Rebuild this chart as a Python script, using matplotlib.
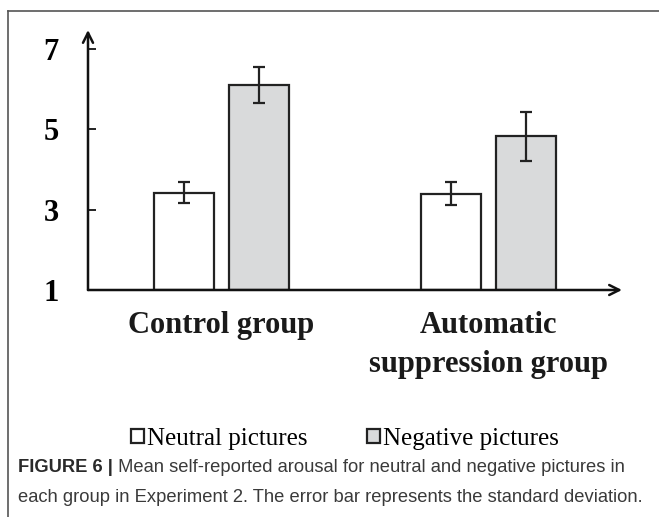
import matplotlib
matplotlib.use("Agg")
import matplotlib.pyplot as plt
from matplotlib.lines import Line2D
import numpy as np

# data
groups = ["Control group", "Automatic\nsuppression group"]
conditions = ["Neutral pictures", "Negative pictures"]
neutral_mean = [3.42, 3.40]
neutral_sd = [0.26, 0.28]
negative_mean = [6.10, 4.83]
negative_sd = [0.45, 0.61]
yticks = [1, 3, 5, 7]
caption_bold = "FIGURE 6 |"
caption_rest = (" Mean self-reported arousal for neutral and negative pictures in\n"
                "each group in Experiment 2. The error bar represents the standard deviation.")

W, H = 659, 517
fig = plt.figure(figsize=(W / 100, H / 100), dpi=100)
fig.patch.set_facecolor("white")

# outer frame (left and top edges visible)
frame_col = "#555555"
fig.add_artist(Line2D([8 / W, 8 / W], [0, 1 - 11 / H], color=frame_col, lw=1.2))
fig.add_artist(Line2D([8 / W, 1], [1 - 11 / H, 1 - 11 / H], color=frame_col, lw=1.2))

ax = fig.add_axes([88 / W, 1 - 290 / H, (622 - 88) / W, (290 - 30) / H])
ax.set_xlim(-0.5, 1.5)
ax.set_ylim(1, 1 + 260 / 40.2)

x = np.arange(len(groups))
off = 0.142
width = 0.225
edge = "#222222"
err_kw = dict(ecolor=edge, elinewidth=1.6, capsize=4.5, capthick=1.6)

b1 = ax.bar(x - off, np.array(neutral_mean) - 1, width, bottom=1, color="white",
            edgecolor=edge, linewidth=1.6, yerr=neutral_sd, error_kw=err_kw,
            label=conditions[0])
b2 = ax.bar(x + off, np.array(negative_mean) - 1, width, bottom=1, color="#d9dadb",
            edgecolor=edge, linewidth=1.6, yerr=negative_sd, error_kw=err_kw,
            label=conditions[1])

for s in ax.spines.values():
    s.set_visible(False)

# axes drawn as arrows
arrow_kw = dict(arrowstyle="->", color="#111111", lw=1.8, shrinkA=0, shrinkB=0,
                mutation_scale=18)
ax.annotate("", xy=(0, 1.0), xytext=(0, 0), xycoords="axes fraction",
            arrowprops=arrow_kw, annotation_clip=False)
ax.annotate("", xy=(1.0, 0), xytext=(0, 0), xycoords="axes fraction",
            arrowprops=arrow_kw, annotation_clip=False)

ax.set_yticks(yticks)
ax.set_yticklabels([str(t) for t in yticks], fontfamily="Liberation Serif",
                   fontweight="bold", fontsize=22)
ax.tick_params(axis="y", direction="in", length=6, width=1.3, color="#111111", pad=21)
ax.set_xticks([])

# group labels
ax.text(0, -0.08, groups[0], transform=ax.get_xaxis_transform(), ha="center", va="top",
        fontfamily="Liberation Serif", fontweight="bold", fontsize=22, color="#1a1a1a")
ax.text(1, -0.08, groups[1], transform=ax.get_xaxis_transform(), ha="center", va="top",
        fontfamily="Liberation Serif", fontweight="bold", fontsize=22, color="#1a1a1a",
        linespacing=1.45)

# legend
fig.legend(handles=[b1, b2], labels=conditions, loc="center", ncol=2,
           bbox_to_anchor=(345 / W, 1 - 439 / H), frameon=False,
           prop={"family": "Liberation Serif", "size": 18},
           handlelength=0.52, handleheight=0.45, handletextpad=0.12,
           columnspacing=2.4)

# caption
cap_col = "#3a3a3a"
cap_size = 13.2
t1 = fig.text(18 / W, 1 - 468 / H, caption_bold, fontfamily="Liberation Sans",
              fontweight="bold", fontsize=cap_size, color="#2a2a2a", va="center")
fig.canvas.draw()
bb = t1.get_window_extent()
lines = caption_rest.split("\n")
fig.text(bb.x1 / W, 1 - 468 / H, lines[0], fontfamily="Liberation Sans",
         fontsize=cap_size, color=cap_col, va="center")
fig.text(18 / W, 1 - 497 / H, lines[1], fontfamily="Liberation Sans",
         fontsize=cap_size, color=cap_col, va="center")

fig.savefig("out.png", dpi=100)
